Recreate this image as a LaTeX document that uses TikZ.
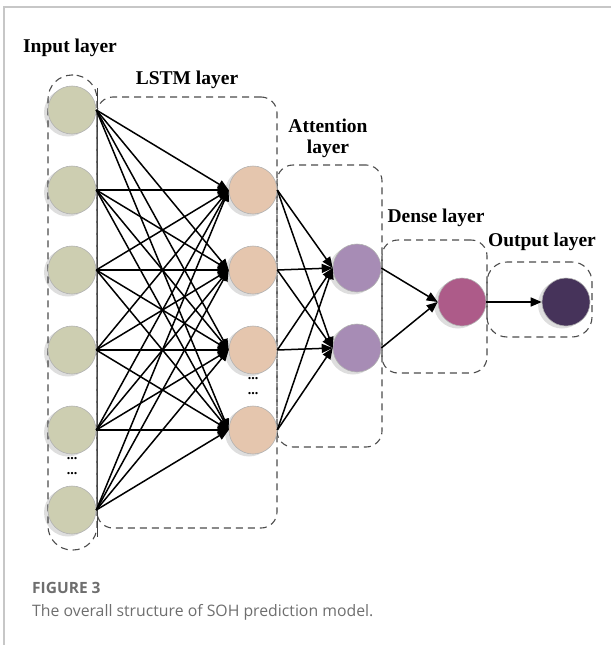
\documentclass[tikz,border=0pt]{standalone}
\usepackage{fontspec}
\setmainfont{Liberation Serif}
\newfontfamily\capfont{Open Sans}
\usepackage{tikz}
\usetikzlibrary{arrows.meta,positioning,shadows}

\definecolor{inpc}{HTML}{CDCEB1}
\definecolor{lstmc}{HTML}{E5C6AE}
\definecolor{attc}{HTML}{A78CB5}
\definecolor{densec}{HTML}{AD5B89}
\definecolor{outc}{HTML}{46335A}
\definecolor{capgray}{HTML}{6E6E6E}

\begin{document}
\begin{tikzpicture}[
  x=1pt,y=-1pt,
  neuron/.style={circle,draw=black!30,line width=0.6pt,minimum size=48pt,inner sep=0pt,
    drop shadow={shadow xshift=-4pt,shadow yshift=-2.5pt,opacity=0.13,fill=black}},
  layerbox/.style={draw=black!70,dash pattern=on 7pt off 5pt,line width=1.1pt,rounded corners=16pt,inner sep=0pt},
  lbl/.style={font=\fontsize{19.5}{21}\selectfont\bfseries,inner sep=0pt},
  dots/.style={font=\fontsize{14}{15}\selectfont\bfseries,align=center,inner sep=0pt},
  conn/.style={line width=1.5pt,-{Triangle[length=11pt,width=9pt]}}
]
\useasboundingbox (0,0) rectangle (611,645);
\draw[black!22,line width=1.5pt] (4,645) -- (4,7) -- (611,7);

% layer boxes
\node[layerbox,rounded corners=24pt,minimum width=49pt,minimum height=475pt] (inbox) at (72.5,312.5) {};
\draw[black!75,line width=1pt] (inbox.north east) ++(0,14) -- ([yshift=14pt]inbox.south east);
\node[layerbox,minimum width=180pt,minimum height=431pt] (lstmbox) at (187,312.5) {};
\node[layerbox,minimum width=105pt,minimum height=282pt] (attbox) at (329.5,306) {};
\node[layerbox,minimum width=105pt,minimum height=133pt] (densebox) at (434.5,306.5) {};
\node[layerbox,rounded corners=20pt,minimum width=105pt,minimum height=75pt] (outbox) at (539.5,299.5) {};

% neurons
\node[neuron,fill=inpc] (i1) at (72,110) {};
\node[neuron,fill=inpc] (i2) at (72,190) {};
\node[neuron,fill=inpc] (i3) at (72,270) {};
\node[neuron,fill=inpc] (i4) at (72,350) {};
\node[neuron,fill=inpc] (i5) at (72,430) {};
\node[neuron,fill=inpc] (i6) at (72,510) {};
\node[dots] (idots) at (72,466) {...\\...};
\node[neuron,fill=lstmc] (l1) at (253,190) {};
\node[neuron,fill=lstmc] (l2) at (253,270) {};
\node[neuron,fill=lstmc] (l3) at (253,350) {};
\node[neuron,fill=lstmc] (l4) at (253,430) {};
\node[dots] (ldots) at (253,386) {...\\...};
\node[neuron,fill=attc] (a1) at (357,268) {};
\node[neuron,fill=attc] (a2) at (357,348) {};
\node[neuron,fill=densec] (d1) at (462,302) {};
\node[neuron,fill=outc] (o1) at (566,302) {};

% labels
\node[lbl] (inlbl) at (70,48) {Input layer};
\node[lbl] (lstmlbl) at (187,80) {LSTM layer};
\node[lbl,align=center] (attlbl) at (328,138) {Attention\\layer};
\node[lbl] (denselbl) at (436,218) {Dense layer};
\node[lbl] (outlbl) at (542,242) {Output layer};

% connections
\foreach \i in {1,...,6}
  \foreach \j in {1,...,4}
    \draw[conn] (i\i.east) -- (l\j.west);
\foreach \j in {1,...,4}
  \foreach \k in {1,2}
    \draw[conn] (l\j.east) -- (a\k.west);
\draw[conn] (a1.east) -- (d1.west);
\draw[conn] (a2.east) -- (d1.west);
\draw[conn] (d1.east) -- (o1.west);

% caption
\node[anchor=west,inner sep=0pt,text=capgray,font=\capfont\fontsize{15.5}{17}\selectfont\bfseries] (fig) at (32,588) {FIGURE 3};
\node[anchor=west,inner sep=0pt,text=capgray,font=\capfont\fontsize{15.8}{17}\selectfont] (cap) at (32,612) {The overall structure of SOH prediction model.};
\end{tikzpicture}
\end{document}
